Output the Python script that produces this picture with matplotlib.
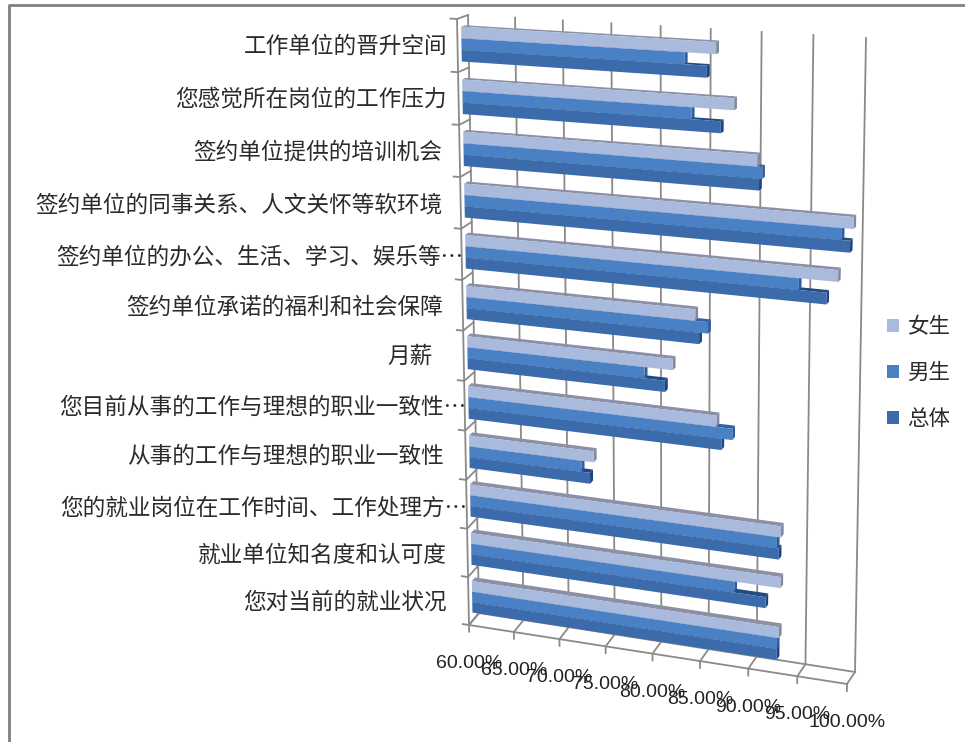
import numpy as np
import matplotlib
matplotlib.use('Agg')
import matplotlib.pyplot as plt
from matplotlib.patches import Patch
from matplotlib.transforms import Transform

plt.rcParams['font.family'] = ['Noto Sans CJK SC', 'DejaVu Sans']

# top of the chart first
categories = ['工作单位的晋升空间', '您感觉所在岗位的工作压力', '签约单位提供的培训机会',
              '签约单位的同事关系、人文关怀等软环境', '签约单位的办公、生活、学习、娱乐等…',
              '签约单位承诺的福利和社会保障', '月薪', '您目前从事的工作与理想的职业一致性…',
              '从事的工作与理想的职业一致性', '您的就业岗位在工作时间、工作处理方…',
              '就业单位知名度和认可度', '您对当前的就业状况']
female = [86.1, 87.9, 90.2, 99.6, 98.2, 84.1, 81.8, 86.3, 73.5, 92.9, 92.9, 92.8]
male = [83.0, 83.7, 90.7, 98.5, 94.4, 85.4, 78.9, 87.9, 72.2, 92.5, 88.2, 92.6]
total = [85.2, 86.6, 90.4, 99.3, 97.1, 84.5, 81.0, 86.8, 73.1, 92.7, 91.4, 92.6]
ticks = [60, 65, 70, 75, 80, 85, 90, 95, 100]
series_names = ['女生', '男生', '总体']

# right edge and centre of each category label, in picture pixels
label_right = [447, 447, 442, 442, 463, 443, 433, 466, 444, 467, 447, 447]
label_y = [46, 99, 152, 205, 257, 307, 356, 407, 456, 508, 555, 602]

# picture pixels of the 3d box: value 60/100 on the floor and on the top
FRONT = [(469, 625), (847, 684), (858, 43), (457, 19)]
BACK = [(479, 613), (855, 672), (866, 38), (468, 15)]
SOURCE = [(60, 0), (100, 0), (100, 12), (60, 12)]

BAR_FRONT = 0.36
BAR_BACK = 0.68
BAR_H = 0.22
GRID = '#8a8a8a'

# front, top, side colour of each bar
L_COLS = ('#A9BADD', '#8C90A6', '#83879B')
M_COLS = ('#4A80C4', '#35609E', '#2F5C9A')
D_COLS = ('#3B6BAA', '#24497E', '#1E4480')


class PlaneProjection(Transform):
    '''Maps (value, category position) onto a plane of the perspective box'''
    input_dims = 2
    output_dims = 2

    def __init__(self, depth):
        super().__init__()
        A = []
        b = []
        for (u, v), p, q in zip(SOURCE, FRONT, BACK):
            x = p[0] + (q[0] - p[0]) * depth
            y = p[1] + (q[1] - p[1]) * depth
            A.append([u, v, 1, 0, 0, 0, -u * x, -v * x])
            A.append([0, 0, 0, u, v, 1, -u * y, -v * y])
            b += [x, y]
        self.h = np.append(np.linalg.solve(np.array(A, float), np.array(b, float)), 1).reshape(3, 3)

    def transform_non_affine(self, values):
        values = np.asarray(values, float)
        pts = np.column_stack([values, np.ones(len(values))]) @ self.h.T
        return pts[:, :2] / pts[:, 2:]


fig = plt.figure(figsize=(9.65, 7.42), dpi=100)
ax = fig.add_axes([0, 0, 1, 1])

front = PlaneProjection(0)
back = PlaneProjection(1)
bar_front = PlaneProjection(BAR_FRONT)
bar_back = PlaneProjection(BAR_BACK)

# outer frame, only left and top survive in the picture
ax.plot([8.5, 8.5, 965], [742, 4.5, 4.5], color='#808080', lw=2, zorder=1)

# walls and floor
for v in ticks:
    ax.plot([v, v], [0, 12], color=GRID, lw=1.3, transform=back + ax.transData, zorder=2)
    p = np.vstack([front.transform([[v, -0.14], [v, 0]]), back.transform([[v, 0]])])
    ax.plot(p[:, 0], p[:, 1], color=GRID, lw=1.3, zorder=2)
ax.plot([60, 100], [0, 0], color=GRID, lw=1.3, transform=front + ax.transData, zorder=2)
ax.plot([60, 100], [0, 0], color=GRID, lw=1.3, transform=back + ax.transData, zorder=2)
ax.plot([60, 60], [0, 12], color=GRID, lw=1.3, transform=front + ax.transData, zorder=2)
for y in range(13):
    p = np.vstack([front.transform([[59.3, y], [60, y]]), back.transform([[60, y]])])
    ax.plot(p[:, 0], p[:, 1], color=GRID, lw=1.3, zorder=2)


def draw_bar(value, y0, cols, z):
    y1 = y0 + BAR_H
    ax.barh(y0, value - 60, height=BAR_H, left=60, align='edge', color=cols[0], lw=0,
            transform=bar_front + ax.transData, zorder=z + 0.2)
    top = np.vstack([bar_front.transform([[60, y1], [value, y1]]),
                     bar_back.transform([[value, y1], [60, y1]])])
    ax.fill(top[:, 0], top[:, 1], color=cols[1], lw=0, zorder=z)
    side = np.vstack([bar_front.transform([[value, y0], [value, y1]]),
                      bar_back.transform([[value, y1], [value, y0]])])
    ax.fill(side[:, 0], side[:, 1], color=cols[2], lw=0, zorder=z + 0.1)


for i in range(len(categories)):
    pos = len(categories) - 1 - i
    draw_bar(total[i], pos + 0.17, D_COLS, 3)
    draw_bar(male[i], pos + 0.39, M_COLS, 4)
    draw_bar(female[i], pos + 0.61, L_COLS, 5)

for name, x, y in zip(categories, label_right, label_y):
    ax.text(x, y, name, ha='right', va='center', fontsize=16.3, color='#2b2b2b', zorder=6)

for v in ticks:
    x, y = front.transform([[v, 0]])[0]
    ax.text(x, y + 38.5, f'{v:.2f}%', ha='center', va='center', fontsize=14, color='#222222',
            family=['Liberation Sans'], zorder=6)

handles = [Patch(color=c[0], lw=0) for c in (L_COLS, M_COLS, D_COLS)]
ax.legend(handles, series_names, loc='center left', bbox_to_anchor=(0.919, 0.4975), frameon=False,
          fontsize=15.5, labelcolor='#2b2b2b', handlelength=0.55, handleheight=0.55,
          handletextpad=0.4, labelspacing=1.12, borderpad=0, borderaxespad=0)

ax.set_xlim(0, 965)
ax.set_ylim(742, 0)
ax.axis('off')
fig.savefig('out.png', dpi=100, facecolor='white')
